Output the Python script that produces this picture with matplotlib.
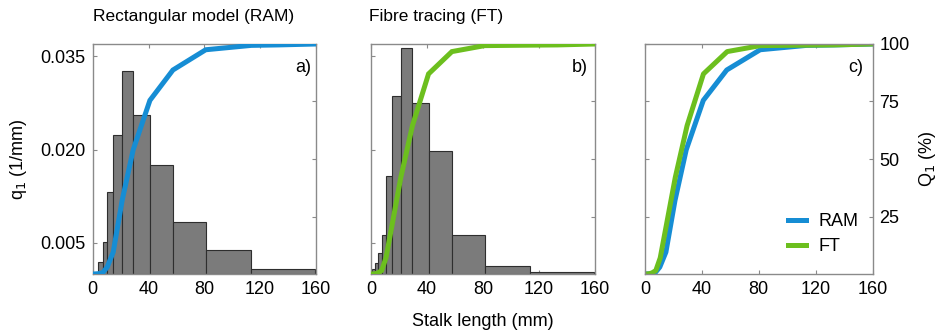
import numpy as np
import matplotlib.pyplot as plt

plt.rcParams['font.family'] = ['Liberation Sans', 'DejaVu Sans']

# histogram bin edges (mm) and heights (1/mm)
edges_ram = [1.8, 3.6, 7.1, 10.4, 14.7, 21.1, 29.0, 41.0, 57.5, 81.0, 113.6, 159.0]
q_ram = [0.0003, 0.0019, 0.0051, 0.0132, 0.0223, 0.0326, 0.0256, 0.0175, 0.0084, 0.0039, 0.0008]

edges_ft = [1.0, 2.9, 5.0, 7.6, 10.7, 14.8, 21.3, 29.6, 41.1, 57.8, 81.2, 113.9, 159.0]
q_ft = [0.0008, 0.0018, 0.0033, 0.0063, 0.0157, 0.0287, 0.0363, 0.0275, 0.0198, 0.0062, 0.0013, 0.0003]

# cumulative curves (%)
x_ram = [0.5, 3.6, 7.1, 10.4, 14.7, 21.1, 29.0, 41.0, 57.5, 81.0, 113.6, 133.0, 160.0]
Q_ram = [0.0, 0.1, 0.5, 3.0, 9.5, 32.0, 54.0, 75.5, 88.7, 97.5, 99.4, 99.6, 100.0]
x_ft = [0.5, 2.9, 5.0, 7.6, 10.7, 14.8, 21.3, 29.6, 41.1, 57.8, 81.2, 113.9, 133.0, 160.0]
Q_ft = [0.0, 0.1, 0.5, 1.5, 7.0, 20.5, 42.0, 64.5, 87.0, 96.7, 99.3, 99.5, 99.6, 100.0]

blue = '#168dd4'
green = '#6cbf1e'
spine_c = '#8a8a8a'
xt = [0, 40, 80, 120, 160]
fs = 13

fig = plt.figure(figsize=(9.39, 3.36), dpi=100)
W, H = 939, 336
def px_axes(x0, x1, y0, y1):
    return fig.add_axes([x0 / W, 1 - y1 / H, (x1 - x0) / W, (y1 - y0) / H])

ax_a = px_axes(92.7, 316, 44, 274)
ax_b = px_axes(371, 595, 44, 274)
ax_c = px_axes(645, 872.5, 44, 274)


def style(ax):
    for s in ax.spines.values():
        s.set_color(spine_c)
        s.set_linewidth(1.0)
    ax.set_xlim(0, 160)
    ax.set_xticks(xt)
    ax.tick_params(direction='in', length=3, width=0.8, color=spine_c,
                   labelsize=fs, top=True, pad=5)


def hist_panel(ax, edges, q, x, Q, color, letter, lx):
    e = np.array(edges)
    ax.bar(e[:-1], q, width=np.diff(e), align='edge', color='#7b7b7b',
           edgecolor='#2e2e2e', linewidth=0.8, zorder=2)
    style(ax)
    ax.set_ylim(0, 0.037)
    ax.set_yticks([0.005, 0.020, 0.035])
    ax.tick_params(axis='y', right=True)
    tw = ax.twinx()
    tw.plot(x, Q, color=color, lw=3.6, solid_joinstyle='miter', zorder=3)
    tw.set_ylim(0, 100)
    tw.set_yticks([25, 50, 75, 100])
    tw.tick_params(axis='y', direction='in', length=3, color=spine_c, labelright=False)
    for s in tw.spines.values():
        s.set_visible(False)
    ax.text(lx, 0.9, letter, transform=ax.transAxes, ha='right', va='center', fontsize=fs)


hist_panel(ax_a, edges_ram, q_ram, x_ram, Q_ram, blue, 'a)', 0.978)
ax_a.set_yticklabels(['0.005', '0.020', '0.035'])
ax_a.set_ylabel('q$_1$ (1/mm)', fontsize=fs, labelpad=8)

hist_panel(ax_b, edges_ft, q_ft, x_ft, Q_ft, green, 'b)', 0.968)
ax_b.set_yticklabels([])

style(ax_c)
ax_c.plot(x_ram, Q_ram, color=blue, lw=3.6, label='RAM')
ax_c.plot(x_ft, Q_ft, color=green, lw=3.6, label='FT')
ax_c.set_ylim(0, 100)
ax_c.set_yticks([25, 50, 75, 100])
ax_c.yaxis.tick_right()
ax_c.tick_params(axis='y', left=True, right=True, labelleft=False, labelright=True)
ax_c.yaxis.set_label_position('right')
ax_c.set_ylabel('Q$_1$ (%)', fontsize=fs, labelpad=5)
ax_c.text(0.958, 0.9, 'c)', transform=ax_c.transAxes, ha='right', va='center', fontsize=fs)
ax_c.legend(loc='lower right', bbox_to_anchor=(1.01, 0.01), frameon=False, fontsize=fs,
            handlelength=1.0, handletextpad=0.7, labelspacing=0.45)

fig.text(92.7 / W, 1 - 17 / H, 'Rectangular model (RAM)', ha='left', va='center', fontsize=12.5)
fig.text(369 / W, 1 - 17 / H, 'Fibre tracing (FT)', ha='left', va='center', fontsize=12.5)
fig.text(483 / W, 1 - 322 / H, 'Stalk length (mm)', ha='center', va='center', fontsize=fs)

fig.savefig('out.png', dpi=100)
